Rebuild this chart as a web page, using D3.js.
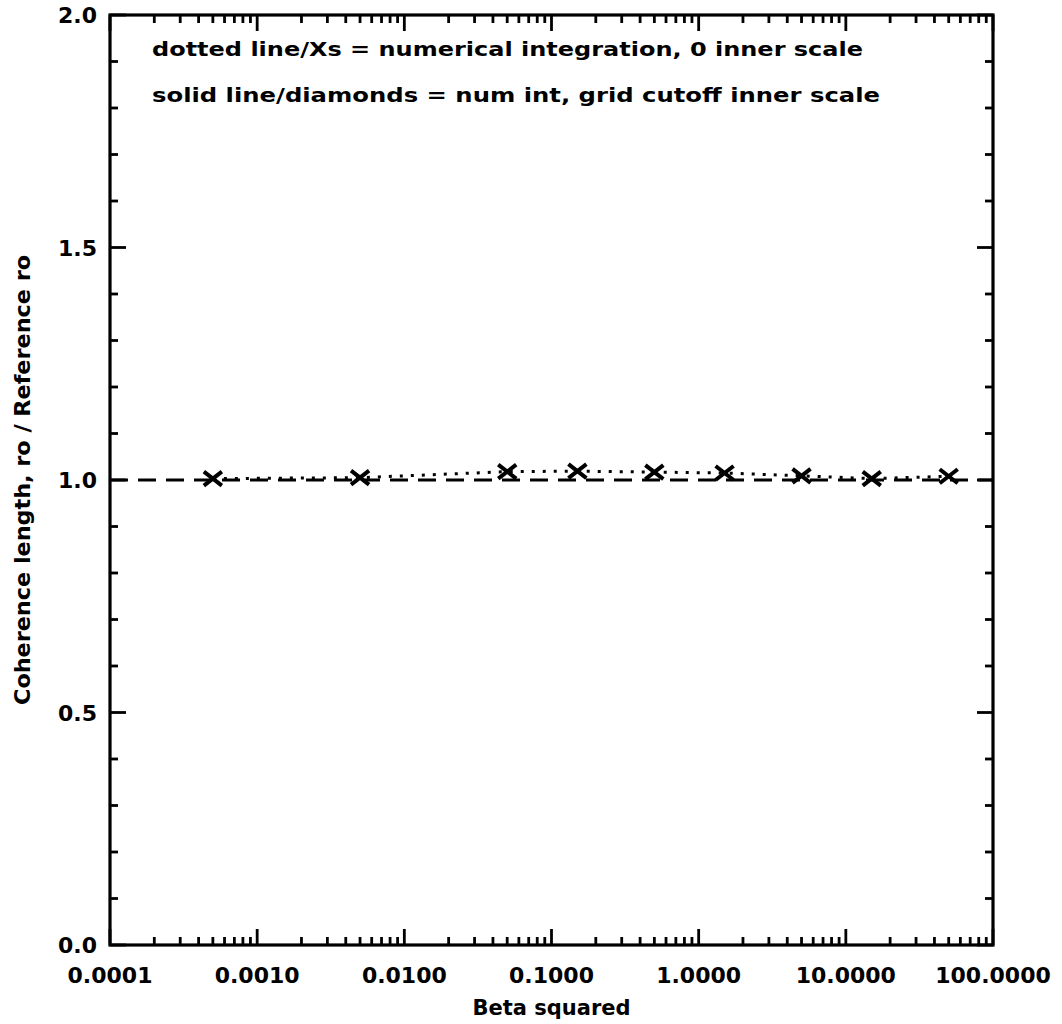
<!DOCTYPE html>
<html>
<head>
<meta charset="utf-8">
<script src="https://cdn.jsdelivr.net/npm/d3@7"></script>
<style>
  html, body { margin: 0; padding: 0; background: #fff; }
  text { font-family: "DejaVu Sans", sans-serif; font-weight: bold; fill: #000; }
</style>
</head>
<body>
<svg id="chart" width="1062" height="1024"></svg>
<script>
// ---- data ----
const betaSquared = [0.0005, 0.005, 0.05, 0.15, 0.5, 1.5, 5, 15, 50];
const roRatioZeroInner = [1.003, 1.005, 1.018, 1.019, 1.017, 1.015, 1.009, 1.003, 1.008];
const referenceLevel = [1.0];
const xTickValues = [0.0001, 0.001, 0.01, 0.1, 1, 10, 100];
const xTickLabels = ["0.0001", "0.0010", "0.0100", "0.1000", "1.0000", "10.0000", "100.0000"];
const yTickValues = [0.0, 0.5, 1.0, 1.5, 2.0];
const yTickLabels = ["0.0", "0.5", "1.0", "1.5", "2.0"];
const legendLines = [
  "dotted line/Xs = numerical integration, 0 inner scale",
  "solid line/diamonds = num int, grid cutoff inner scale"
];
const xTitle = "Beta squared";
const yTitle = "Coherence length, ro / Reference ro";

// ---- layout ----
const L = 110, R = 993, T = 15, B = 945;
const svg = d3.select("#chart");
const x = d3.scaleLog().domain([1e-4, 1e2]).range([L, R]);
const y = d3.scaleLinear().domain([0, 2]).range([B, T]);

const g = svg.append("g");

// minor ticks
const xMinor = [];
for (let e = -4; e < 2; e++) for (let k = 2; k <= 9; k++) xMinor.push(k * Math.pow(10, e));
const yMinor = d3.range(0, 21).map(i => i / 10).filter(v => Math.abs(v * 2 - Math.round(v * 2)) > 1e-6);

const majorLen = 16, minorLen = 8, sw = 2.8;
function ticksH(cls, data, y0, dir, len) {
  g.selectAll("." + cls).data(data).join("line").attr("class", cls)
    .attr("x1", d => x(d)).attr("x2", d => x(d)).attr("y1", y0).attr("y2", y0 + dir * len)
    .attr("stroke", "#000").attr("stroke-width", sw);
}
function ticksV(cls, data, x0, dir, len) {
  g.selectAll("." + cls).data(data).join("line").attr("class", cls)
    .attr("x1", x0).attr("x2", x0 + dir * len).attr("y1", d => y(d)).attr("y2", d => y(d))
    .attr("stroke", "#000").attr("stroke-width", sw);
}
ticksH("xb", xTickValues, B, -1, majorLen);
ticksH("xbm", xMinor, B, -1, minorLen);
ticksH("xt", xTickValues, T, 1, majorLen);
ticksH("xtm", xMinor, T, 1, minorLen);
ticksV("yl", yTickValues, L, 1, majorLen);
ticksV("ylm", yMinor, L, 1, minorLen);
ticksV("yr", yTickValues, R, -1, majorLen);
ticksV("yrm", yMinor, R, -1, minorLen);

// frame
g.append("rect").attr("x", L).attr("y", T).attr("width", R - L).attr("height", B - T)
  .attr("fill", "none").attr("stroke", "#000").attr("stroke-width", 3.2);

// tick labels
g.selectAll(".xlab").data(xTickValues).join("text").attr("class", "xlab")
  .attr("x", d => x(d)).attr("y", 983).attr("text-anchor", "middle")
  .attr("font-size", 22).text((d, i) => xTickLabels[i]);
g.selectAll(".ylab").data(yTickValues).join("text").attr("class", "ylab")
  .attr("x", 97).attr("y", d => y(d) + 8).attr("text-anchor", "end")
  .attr("font-size", 22).text((d, i) => yTickLabels[i]);

// titles
g.append("text").attr("x", (L + R) / 2).attr("y", 1015).attr("text-anchor", "middle")
  .attr("font-size", 21).text(xTitle);
g.append("text").attr("transform", `translate(30,${(T + B) / 2}) rotate(-90)`)
  .attr("text-anchor", "middle").attr("font-size", 21)
  .attr("textLength", 450).attr("lengthAdjust", "spacingAndGlyphs").text(yTitle);

// legend text
const legendY = [56, 102];
const legendW = [711, 728];
legendLines.forEach((s, i) => {
  g.append("text").attr("x", 152).attr("y", legendY[i]).attr("font-size", 20)
    .attr("textLength", legendW[i]).attr("lengthAdjust", "spacingAndGlyphs").text(s);
});

// reference dashed line at 1.0
g.selectAll(".ref").data(referenceLevel).join("line").attr("class", "ref")
  .attr("x1", L).attr("x2", R).attr("y1", d => y(d)).attr("y2", d => y(d))
  .attr("stroke", "#000").attr("stroke-width", 3).attr("stroke-dasharray", "18,10");

// dotted line through Xs
const pts = betaSquared.map((b, i) => [b, roRatioZeroInner[i]]);
g.append("path").datum(pts)
  .attr("d", d3.line().x(d => x(d[0])).y(d => y(d[1])))
  .attr("fill", "none").attr("stroke", "#000").attr("stroke-width", 3)
  .attr("stroke-dasharray", "3,8");

// X markers
const mw = 9, mh = 7;
const mk = g.selectAll(".mk").data(pts).join("g").attr("class", "mk")
  .attr("transform", d => `translate(${x(d[0])},${y(d[1])})`);
mk.append("line").attr("x1", -mw).attr("y1", -mh).attr("x2", mw).attr("y2", mh)
  .attr("stroke", "#000").attr("stroke-width", 4);
mk.append("line").attr("x1", -mw).attr("y1", mh).attr("x2", mw).attr("y2", -mh)
  .attr("stroke", "#000").attr("stroke-width", 4);
</script>
</body>
</html>
